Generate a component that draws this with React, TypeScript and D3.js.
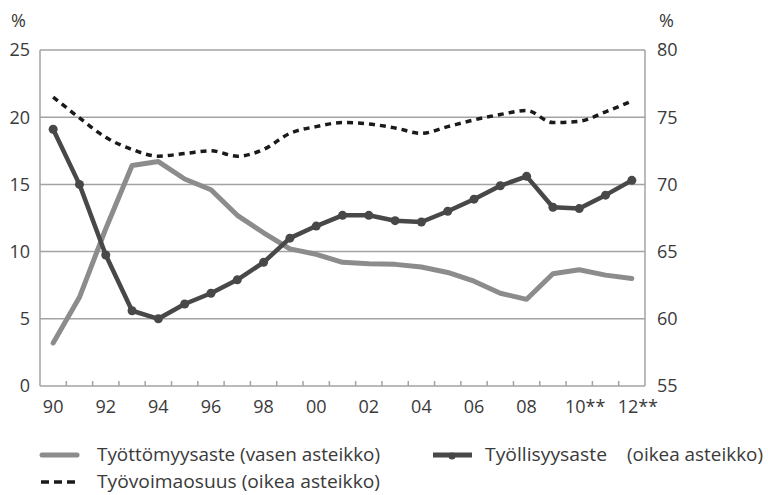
import React, { useEffect, useRef } from 'react';
import * as d3 from 'd3';

const years = d3.range(1990, 2013).map(String);
const yearLabels = ['90', '92', '94', '96', '98', '00', '02', '04', '06', '08', '10**', '12**'];

// Työttömyysaste, vasen asteikko (%)
const unemployment = [3.2, 6.6, 11.7, 16.4, 16.7, 15.4, 14.6, 12.7, 11.4, 10.2, 9.8, 9.2, 9.1, 9.05, 8.85, 8.45, 7.8, 6.9, 6.45, 8.35, 8.65, 8.25, 8.0];
// Työllisyysaste, oikea asteikko (%)
const employment = [74.1, 70.0, 64.75, 60.6, 60.0, 61.1, 61.9, 62.9, 64.2, 66.0, 66.9, 67.7, 67.7, 67.3, 67.2, 68.0, 68.9, 69.9, 70.6, 68.3, 68.2, 69.2, 70.3];
// Työvoimaosuus, oikea asteikko (%)
const participation = [76.5, 74.95, 73.5, 72.6, 72.1, 72.3, 72.5, 72.1, 72.6, 73.8, 74.3, 74.6, 74.5, 74.2, 73.8, 74.3, 74.8, 75.2, 75.5, 74.6, 74.7, 75.4, 76.2];

const leftTicks = [0, 5, 10, 15, 20, 25];
const rightTicks = [55, 60, 65, 70, 75, 80];

const W = 768;
const H = 495;
const FONT = '"Open Sans", Roboto, "Noto Sans", sans-serif';

export default function App() {
  const svgRef = useRef<SVGSVGElement>(null);

  useEffect(() => {
    if (!svgRef.current) return;
    const svg = d3.select(svgRef.current);
    svg.selectAll('*').remove();

    const left = 40, right = 645, top = 50, bottom = 386;

    const x = d3.scaleBand<string>().domain(years).range([left, right]);
    const cx = (i: number) => (x(years[i]) as number) + x.bandwidth() / 2;
    const yL = d3.scaleLinear().domain([0, 25]).range([bottom, top]);
    const yR = d3.scaleLinear().domain([55, 80]).range([bottom, top]);

    const gridColor = '#a3a3a3';
    const textColor = '#3a3a3a';

    // grid lines
    svg.append('g')
      .selectAll('line')
      .data(leftTicks.filter(t => t > 0))
      .join('line')
      .attr('x1', left)
      .attr('x2', right)
      .attr('y1', d => yL(d))
      .attr('y2', d => yL(d))
      .attr('stroke', gridColor)
      .attr('stroke-width', 1.5);

    // axes frame
    svg.append('line').attr('x1', left).attr('x2', left).attr('y1', top).attr('y2', bottom)
      .attr('stroke', gridColor).attr('stroke-width', 1.5);
    svg.append('line').attr('x1', right).attr('x2', right).attr('y1', top).attr('y2', bottom)
      .attr('stroke', gridColor).attr('stroke-width', 1.5);
    svg.append('line').attr('x1', left).attr('x2', right).attr('y1', bottom).attr('y2', bottom)
      .attr('stroke', gridColor).attr('stroke-width', 1.5);

    // tick marks at band boundaries, pointing inward
    const boundaries = years.map(y => x(y) as number).concat([right]);
    svg.append('g')
      .selectAll('line')
      .data(boundaries.slice(1, -1))
      .join('line')
      .attr('x1', d => d)
      .attr('x2', d => d)
      .attr('y1', bottom)
      .attr('y2', bottom - 5)
      .attr('stroke', gridColor)
      .attr('stroke-width', 1.5);

    // left labels
    svg.append('g')
      .selectAll('text')
      .data(leftTicks)
      .join('text')
      .attr('x', 30)
      .attr('y', d => yL(d))
      .attr('dy', '0.35em')
      .attr('text-anchor', 'end')
      .attr('font-family', FONT)
      .attr('font-size', 18)
      .attr('fill', textColor)
      .text(d => String(d));

    // right labels
    svg.append('g')
      .selectAll('text')
      .data(rightTicks)
      .join('text')
      .attr('x', 657)
      .attr('y', d => yR(d))
      .attr('dy', '0.35em')
      .attr('font-family', FONT)
      .attr('font-size', 18)
      .attr('fill', textColor)
      .text(d => String(d));

    // % labels
    svg.append('text').attr('x', 11).attr('y', 27).attr('font-family', FONT).attr('font-size', 18)
      .attr('fill', textColor).text('%');
    svg.append('text').attr('x', 659).attr('y', 27).attr('font-family', FONT).attr('font-size', 18)
      .attr('fill', textColor).text('%');

    // x labels
    svg.append('g')
      .selectAll('text')
      .data(yearLabels)
      .join('text')
      .attr('x', (_, i) => cx(i * 2) + (yearLabels[i].includes('*') ? 6 : 0))
      .attr('y', 413)
      .attr('text-anchor', 'middle')
      .attr('font-family', FONT)
      .attr('font-size', 18)
      .attr('fill', textColor)
      .text(d => d);

    // lines
    const lineL = d3.line<number>().x((_, i) => cx(i)).y(d => yL(d));
    const lineR = d3.line<number>().x((_, i) => cx(i)).y(d => yR(d));
    const lineRSmooth = d3.line<number>().x((_, i) => cx(i)).y(d => yR(d)).curve(d3.curveMonotoneX);

    svg.append('path')
      .datum(participation)
      .attr('fill', 'none')
      .attr('stroke', '#1a1a1a')
      .attr('stroke-width', 3.5)
      .attr('stroke-dasharray', '6,5')
      .attr('d', lineRSmooth);

    svg.append('path')
      .datum(unemployment)
      .attr('fill', 'none')
      .attr('stroke', '#8c8c8c')
      .attr('stroke-width', 5)
      .attr('stroke-linejoin', 'round')
      .attr('stroke-linecap', 'round')
      .attr('d', lineL);

    svg.append('path')
      .datum(employment)
      .attr('fill', 'none')
      .attr('stroke', '#484848')
      .attr('stroke-width', 4.5)
      .attr('stroke-linejoin', 'round')
      .attr('d', lineR);

    svg.append('g')
      .selectAll('circle')
      .data(employment)
      .join('circle')
      .attr('cx', (_, i) => cx(i))
      .attr('cy', d => yR(d))
      .attr('r', 4.5)
      .attr('fill', '#484848');

    // legend
    const lg = svg.append('g').attr('font-family', FONT).attr('font-size', 18).attr('fill', textColor);
    const legendText = (tx: number, ty: number, len: number, label: string) =>
      lg.append('text')
        .attr('x', tx)
        .attr('y', ty)
        .attr('dy', '0.35em')
        .attr('textLength', len)
        .attr('lengthAdjust', 'spacingAndGlyphs')
        .text(label);

    lg.append('line').attr('x1', 42).attr('x2', 77).attr('y1', 455).attr('y2', 455)
      .attr('stroke', '#8c8c8c').attr('stroke-width', 5).attr('stroke-linecap', 'round');
    legendText(97, 455, 283, 'Työttömyysaste (vasen asteikko)');

    lg.append('line').attr('x1', 433).attr('x2', 472).attr('y1', 455).attr('y2', 455)
      .attr('stroke', '#484848').attr('stroke-width', 5);
    lg.append('circle').attr('cx', 452).attr('cy', 456).attr('r', 3.5).attr('fill', '#484848');
    legendText(485, 455, 122, 'Työllisyysaste');
    legendText(627, 455, 136, '(oikea asteikko)');

    lg.append('line').attr('x1', 41).attr('x2', 75).attr('y1', 482).attr('y2', 482)
      .attr('stroke', '#1a1a1a').attr('stroke-width', 3.5).attr('stroke-dasharray', '8,5');
    legendText(97, 482, 283, 'Työvoimaosuus (oikea asteikko)');
  }, []);

  return (
    <svg
      ref={svgRef}
      width={W}
      height={H}
      style={{ position: 'absolute', left: 0, top: 0, background: '#fff' }}
    />
  );
}
